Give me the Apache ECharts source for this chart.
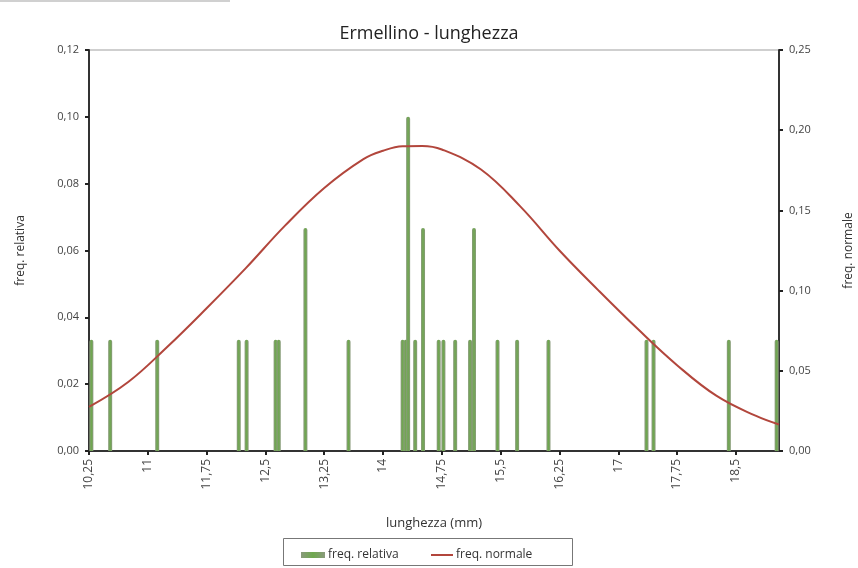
<!DOCTYPE html>
<html>
<head>
<meta charset="utf-8">
<script src="https://cdn.jsdelivr.net/npm/echarts@6/dist/echarts.min.js"></script>
<style>html,body{margin:0;padding:0;background:#fff}#c{width:858px;height:568px}</style>
</head>
<body>
<div id="c"></div>
<script>
// Measured lengths (mm) and their relative frequencies
const barX = [10.28, 10.52, 11.12, 12.16, 12.26, 12.63, 12.67, 13.01, 13.56, 14.25, 14.29, 14.32, 14.41, 14.51, 14.71, 14.77, 14.92, 15.11, 15.16, 15.46, 15.71, 16.11, 17.36, 17.45, 18.41, 19.02];
const barY = [0.0333, 0.0333, 0.0333, 0.0333, 0.0333, 0.0333, 0.0333, 0.0667, 0.0333, 0.0333, 0.0333, 0.1, 0.0333, 0.0667, 0.0333, 0.0333, 0.0333, 0.0333, 0.0667, 0.0333, 0.0333, 0.0333, 0.0333, 0.0333, 0.0333, 0.0333];
// Normal curve
const normX = [10.25, 10.75, 11.25, 11.75, 12.25, 12.75, 13.25, 13.75, 14.0, 14.25, 14.5, 14.75, 15.25, 15.75, 16.25, 16.75, 17.25, 17.75, 18.25, 18.75, 19.05];
const normY = [0.0275, 0.0430, 0.0650, 0.0890, 0.1140, 0.1405, 0.1640, 0.1820, 0.1872, 0.1900, 0.1902, 0.1880, 0.1755, 0.1525, 0.1250, 0.1000, 0.0760, 0.0535, 0.0345, 0.0220, 0.0165];
const xTicks = [10.25, 11, 11.75, 12.5, 13.25, 14, 14.75, 15.5, 16.25, 17, 17.75, 18.5];
const xMin = 10.25, xMax = 19.05;

const fmt = v => String(v).replace('.', ',');
const fmt2 = v => v.toFixed(2).replace('.', ',');
const font = 'Open Sans';
const barColor = () => new echarts.graphic.LinearGradient(0, 0, 1, 0, [
  { offset: 0, color: '#8a9a7c' }, { offset: 0.5, color: '#6ea84e' }, { offset: 1, color: '#8a9a7c' }
]);

const chart = echarts.init(document.getElementById('c'));
chart.setOption({
  animation: false,
  backgroundColor: '#fff',
  textStyle: { fontFamily: font },
  title: {
    text: 'Ermellino - lunghezza',
    left: 'center', top: 20,
    textStyle: { fontFamily: font, fontSize: 18, fontWeight: 'normal', color: '#222' }
  },
  graphic: [
    { type: 'rect', shape: { x: 0, y: 0, width: 230, height: 2 }, style: { fill: '#d0d0d0' } },
    { type: 'rect', shape: { x: 283.5, y: 538.5, width: 289, height: 27 }, style: { fill: 'none', stroke: '#777', lineWidth: 1 } }
  ],
  grid: { left: 89, right: 79, top: 50, bottom: 117, outerBoundsMode: 'none', containLabel: false, show: true, borderColor: '#cfcfcf', borderWidth: 2, backgroundColor: 'transparent' },
  legend: [{
    left: 296, top: 544,
    data: ['freq. relativa'], icon: 'rect',
    itemWidth: 24, itemHeight: 6, itemGap: 4,
    textStyle: { fontFamily: font, fontSize: 12, color: '#333', padding: [0, 0, 0, -2] }
  }, {
    left: 426, top: 544,
    data: ['freq. normale'], icon: 'rect',
    itemWidth: 22, itemHeight: 2,
    textStyle: { fontFamily: font, fontSize: 12, color: '#333', padding: [0, 0, 0, -2] }
  }],
  xAxis: {
    type: 'value', min: xMin, max: xMax,
    name: 'lunghezza (mm)', nameLocation: 'middle', nameGap: 66,
    nameTextStyle: { fontFamily: font, fontSize: 13, color: '#333' },
    axisLine: { lineStyle: { color: '#333', width: 2 } },
    axisTick: { show: true, customValues: xTicks, length: 4, inside: false, lineStyle: { color: '#222', width: 2 } },
    axisLabel: { customValues: xTicks, rotate: 90, formatter: fmt, fontSize: 12, color: '#444', margin: 8 },
    splitLine: { show: false }
  },
  yAxis: [{
    type: 'value', min: 0, max: 0.12, interval: 0.02,
    name: 'freq. relativa', nameLocation: 'middle', nameGap: 62, nameRotate: 90,
    nameTextStyle: { fontFamily: font, fontSize: 12, color: '#333' },
    axisLine: { show: true, lineStyle: { color: '#333', width: 2 } },
    axisTick: { show: true, length: 4, lineStyle: { color: '#222', width: 2 } },
    axisLabel: { formatter: fmt2, fontSize: 11, color: '#444', margin: 10 },
    splitLine: { show: false }
  }, {
    type: 'value', min: 0, max: 0.25, interval: 0.05, position: 'right',
    name: 'freq. normale', nameLocation: 'middle', nameGap: 64, nameRotate: 90,
    nameTextStyle: { fontFamily: font, fontSize: 12, color: '#333' },
    axisLine: { show: true, lineStyle: { color: '#333', width: 2 } },
    axisTick: { show: true, length: 4, lineStyle: { color: '#222', width: 2 } },
    axisLabel: { formatter: fmt2, fontSize: 11, color: '#444', margin: 10 },
    splitLine: { show: false }
  }],
  series: [{
    name: 'freq. relativa', type: 'bar', yAxisIndex: 0, barWidth: 4, barGap: '-100%',
    data: barX.map((x, i) => [x, barY[i]]),
    itemStyle: { color: barColor(), borderRadius: [2, 2, 0, 0] }
  }, {
    name: 'freq. normale', type: 'line', yAxisIndex: 1, smooth: 0.4, showSymbol: false, symbol: 'none',
    data: normX.map((x, i) => [x, normY[i]]),
    lineStyle: { color: '#b2463c', width: 2 },
    itemStyle: { color: '#b2463c' }
  }]
});
</script>
</body>
</html>
